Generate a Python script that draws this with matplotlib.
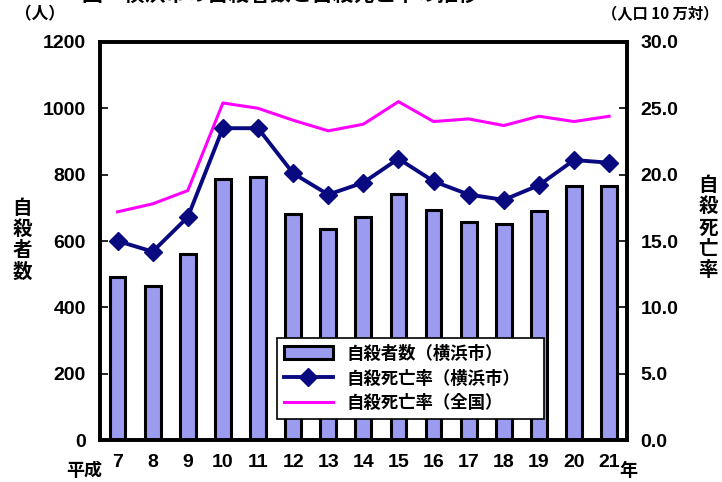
import matplotlib
matplotlib.use('Agg')

import numpy as np
import matplotlib.pyplot as plt
from matplotlib.lines import Line2D
from matplotlib.patches import Patch

years = ['7', '8', '9', '10', '11', '12', '13', '14', '15', '16', '17', '18', '19', '20', '21']
suicides_yokohama = [490, 465, 562, 788, 792, 682, 635, 672, 743, 692, 657, 650, 690, 767, 767]
rate_yokohama = [15.0, 14.2, 16.8, 23.5, 23.5, 20.1, 18.5, 19.4, 21.2, 19.5, 18.5, 18.1, 19.2, 21.1, 20.9]
rate_japan = [17.2, 17.8, 18.8, 25.4, 25.0, 24.1, 23.3, 23.8, 25.5, 24.0, 24.2, 23.7, 24.4, 24.0, 24.4]

num_font = ['Liberation Sans Narrow', 'Liberation Sans', 'Noto Sans CJK JP']
jp_font = ['Noto Sans CJK JP', 'DejaVu Sans']
plt.rcParams['font.family'] = jp_font

bar_color = '#9b9bf0'
navy = '#0a0a80'
pink = '#ff00ff'

fig = plt.figure(figsize=(7.22, 4.82), dpi=100)
ax = fig.add_axes([0.1385, 0.087, 0.7295, 0.826])
ax2 = ax.twinx()

x = np.arange(len(years))
ax.bar(x, suicides_yokohama, width=0.45, color=bar_color, edgecolor='black', linewidth=2.2, zorder=2)
ax2.plot(x, rate_japan, color=pink, linewidth=2.2, zorder=3)
ax2.plot(x, rate_yokohama, color=navy, linewidth=2.8, marker='D', markersize=9, zorder=4)

ax.set_xlim(-0.5, len(years) - 0.5)
ax.set_ylim(0, 1200)
ax2.set_ylim(0, 30)
ax.set_yticks(np.arange(0, 1201, 200))
ax2.set_yticks(np.arange(0, 30.1, 5))
ax2.set_yticklabels([f'{v:.1f}' for v in np.arange(0, 30.1, 5)])
ax.set_xticks(x)
ax.set_xticklabels(years)

for a in (ax, ax2):
    for s in a.spines.values():
        s.set_linewidth(2.6)
ax.tick_params(axis='y', direction='in', length=6, width=1.2, pad=10, labelsize=14)
ax2.tick_params(axis='y', direction='in', length=6, width=1.2, pad=10, labelsize=14)
ax.tick_params(axis='x', length=0, pad=10, labelsize=14)
for lab in ax.get_yticklabels() + ax2.get_yticklabels() + ax.get_xticklabels():
    lab.set_family(num_font)
    lab.set_fontweight('bold')

# axis captions
fig.text(22 / 722, 1 - 240 / 482, '自\n殺\n者\n数', ha='center', va='center',
         fontsize=14, fontweight='bold', linespacing=1.15)
fig.text(708 / 722, 1 - 228 / 482, '自\n殺\n死\n亡\n率', ha='center', va='center',
         fontsize=14, fontweight='bold', linespacing=1.15)
fig.text(40 / 722, 1 - 14 / 482, '（人）', ha='center', va='center', fontsize=12, fontweight='bold')
fig.text(718 / 722, 1 - 14 / 482, '（人口 10 万対）', ha='right', va='center', fontsize=11,
         fontweight='bold')
fig.text(84 / 722, 1 - 470 / 482, '平成', ha='center', va='center', fontsize=13, fontweight='bold')
fig.text(628 / 722, 1 - 470 / 482, '年', ha='center', va='center', fontsize=13, fontweight='bold')
fig.text(280 / 722, 1.012, '図　横浜市の自殺者数と自殺死亡率の推移', ha='center', va='center',
         fontsize=15, fontweight='bold')

handles = [
    Patch(facecolor=bar_color, edgecolor='black', linewidth=2.2),
    Line2D([], [], color=navy, linewidth=2.8, marker='D', markersize=9),
    Line2D([], [], color=pink, linewidth=2.2),
]
labels = ['自殺者数（横浜市）', '自殺死亡率（横浜市）', '自殺死亡率（全国）']
leg = ax2.legend(handles, labels, loc='lower left', bbox_to_anchor=(0.32, 0.03, 0.54, 0.27),
                 mode='expand', fancybox=False, framealpha=1, edgecolor='black',
                 handlelength=2.8, prop={'family': jp_font, 'size': 12.5, 'weight': 'bold'},
                 borderpad=0.4, labelspacing=0.4)
leg.get_frame().set_linewidth(1.2)
leg.set_zorder(10)

fig.savefig('out.png', dpi=100)
